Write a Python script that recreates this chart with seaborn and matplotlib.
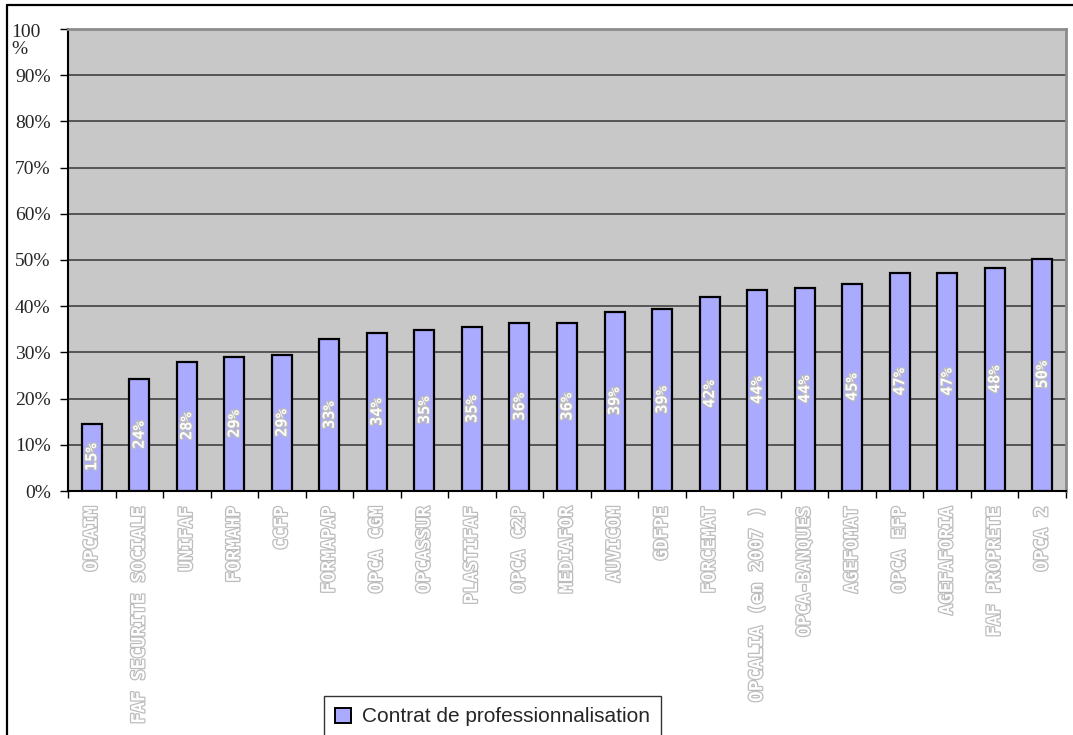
import matplotlib
matplotlib.use("Agg")
import matplotlib.pyplot as plt
import matplotlib.patheffects as pe
import matplotlib.transforms as mtransforms
from matplotlib.lines import Line2D
from matplotlib.patches import Patch
from matplotlib.ticker import FixedLocator
import pandas as pd
import seaborn as sns

# OPCA names and share of "contrat de professionnalisation" (%)
organismes = [
    "OPCAIM", "FAF SECURITE SOCIALE", "UNIFAF", "FORMAHP", "CCFP", "FORMAPAP",
    "OPCA CGM", "OPCASSUR", "PLASTIFAF", "OPCA C2P", "MEDIAFOR", "AUVICOM",
    "GDFPE", "FORCEMAT", "OPCALIA (en 2007 )", "OPCA-BANQUES", "AGEFOMAT",
    "OPCA EFP", "AGEFAFORIA", "FAF PROPRETE", "OPCA 2",
]
taux = [14.6, 24.2, 28.0, 29.0, 29.4, 32.8, 34.1, 34.9, 35.4, 36.4, 36.4,
        38.8, 39.4, 41.9, 43.6, 44.0, 44.9, 47.2, 47.2, 48.3, 50.3]
serie = "Contrat de professionnalisation"
yticks = [0, 10, 20, 30, 40, 50, 60, 70, 80, 90, 100]
ytick_labels = ["0%", "10%", "20%", "30%", "40%", "50%", "60%", "70%", "80%", "90%", "100\n%"]

df = pd.DataFrame({"organisme": organismes, "taux": taux})

sns.set_style("white")
W, H = 1073, 735
fig = plt.figure(figsize=(W / 100, H / 100), dpi=100)
ax = fig.add_axes([68 / W, (H - 491) / H, (1066 - 68) / W, (491 - 29) / H])
ax.set_facecolor("#c8c8c8")

bar_color = "#aaaaff"
sns.barplot(data=df, x="organisme", y="taux", color=bar_color, width=0.42,
            edgecolor="black", linewidth=1.6, saturation=1, ax=ax, zorder=3)

ax.set_xlim(-0.5, len(organismes) - 0.5)
ax.set_ylim(0, 100)
ax.set_xlabel("")
ax.set_ylabel("")

# y axis in Times-like font
ax.set_yticks(yticks)
ax.set_yticklabels(ytick_labels, family="Liberation Serif", fontsize=14)
ax.tick_params(axis="y", length=6, width=1, color="black", pad=6.5, left=True)
top_lbl = ax.get_yticklabels()[-1]
top_lbl.set_multialignment("left")
top_lbl.set_linespacing(1.0)
top_lbl.set_va("top")
top_lbl.set_transform(top_lbl.get_transform() +
                      mtransforms.ScaledTranslation(-10 / 100, 5 / 100, fig.dpi_scale_trans))
ax.yaxis.grid(True, color="#363636", linewidth=1.1, zorder=1)
ax.set_axisbelow(True)

# x labels: hollow gray letters, rotated
outline = [pe.withStroke(linewidth=1.8, foreground="#bcbcbc")]
ax.set_xticks(range(len(organismes)))
ax.set_xticklabels(organismes, rotation=90, family="DejaVu Sans Mono",
                   fontweight="bold", fontsize=13, color="white", va="top")
for lbl in ax.get_xticklabels():
    lbl.set_path_effects(outline)
ax.tick_params(axis="x", which="major", length=0, pad=11)
ax.xaxis.set_minor_locator(FixedLocator([i - 0.5 for i in range(len(organismes) + 1)]))
ax.tick_params(axis="x", which="minor", length=5, width=1, color="black", bottom=True)

# value labels inside the bars
for i, v in enumerate(taux):
    ax.text(i, v / 2, f"{round(v)}%", rotation=90, ha="center", va="center",
            family="DejaVu Sans Mono", fontweight="bold", fontsize=11,
            color="white", path_effects=outline, zorder=5)

for side in ["left", "bottom"]:
    ax.spines[side].set_color("black")
    ax.spines[side].set_linewidth(1.5)
for side in ["top", "right"]:
    ax.spines[side].set_color("#8c8c8c")
    ax.spines[side].set_linewidth(2)

# outer chart frame
fig.add_artist(Line2D([7 / W, 7 / W], [0, 1 - 5 / H], color="black", linewidth=1.6))
fig.add_artist(Line2D([7 / W, 1], [1 - 5 / H, 1 - 5 / H], color="black", linewidth=1.6))

handle = Patch(facecolor=bar_color, edgecolor="black", linewidth=1.4)
leg = fig.legend([handle], [serie], loc="upper left",
                 bbox_to_anchor=(324 / W, 1 - 696 / H), frameon=True,
                 fancybox=False, edgecolor="black",
                 prop={"family": "Liberation Sans", "size": 15},
                 handlelength=0.75, handleheight=0.75, handletextpad=0.5,
                 borderpad=0.55, borderaxespad=0)
leg.get_frame().set_linewidth(1)

fig.savefig("out.png", dpi=100)
